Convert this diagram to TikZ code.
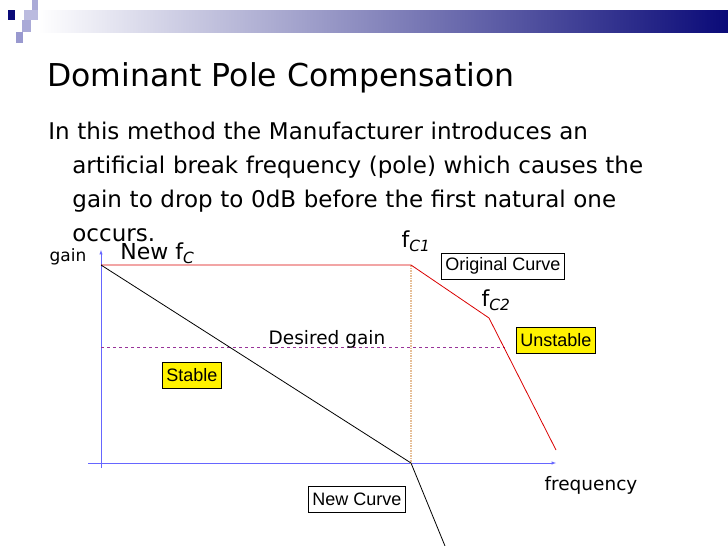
\documentclass[tikz,border=0pt]{standalone}
\usepackage{fontspec}
\setmainfont{DejaVu Sans}
\newfontfamily\arialf{Liberation Sans}
\begin{document}
\begin{tikzpicture}[x=1pt,y=-1pt,line width=0.8pt,
 lbl/.style={font=\fontsize{22}{26}\selectfont,inner sep=0pt},
 bx/.style={draw,line width=0.6pt,font=\arialf\fontsize{18}{20}\selectfont,minimum height=26pt,inner sep=4pt}]
\useasboundingbox (0,0) rectangle (728,546);
\definecolor{navy}{RGB}{10,10,120}
\definecolor{lav}{RGB}{170,170,215}
\definecolor{tan}{RGB}{230,190,150}
\shade[left color=white,right color=navy] (38,10) rectangle (728,32);
\fill[navy] (8,10) rectangle (15,20);
\fill[lav] (32,0) rectangle (38,10);
\fill[lav!80] (24,10) rectangle (38,20);
\fill[lav] (22,20) rectangle (31,32);
\fill[lav!120] (16,32) rectangle (23,43);
\node[anchor=west,font=\fontsize{31.5}{36}\selectfont,inner sep=0pt] (title) at (47,78) {Dominant Pole Compensation};
\node[anchor=north west,align=left,font=\fontsize{23}{34}\selectfont,text width=680pt,inner sep=0pt] (body) at (48,122)
 {In this method the Manufacturer introduces an\\\hspace*{24pt}artificial break frequency (pole) which causes the\\\hspace*{24pt}gain to drop to 0dB before the first natural one\\\hspace*{24pt}occurs.};
\coordinate (o) at (101,468);
\coordinate (yt) at (101,250);
\coordinate (x0) at (88,463);
\coordinate (xt) at (556,463);
\draw[blue!60,line width=0.5pt,-latex] (o) -- (yt);
\draw[blue!60,line width=0.5pt,-latex] (x0) -- (xt);
\coordinate (a) at (101,265);
\coordinate (b) at (411,265);
\coordinate (c) at (489,318);
\coordinate (d) at (556,450);
\coordinate (e) at (411,463);
\coordinate (f) at (445,546);
\draw[tan,densely dotted,line width=1.5pt] (b) -- (e);
\draw[violet!80,dashed] (101,347) coordinate (g1) -- (505,347) coordinate (g2);
\draw[red!85!black] (a) -- (b) -- (c) -- (d);
\draw (a) -- (e) -- (f);
\node[bx,fill=white,anchor=north west] (oc) at (441,253) {Original Curve};
\node[bx,fill=yellow,anchor=north west] (un) at (516,327) {Unstable};
\node[bx,fill=yellow,anchor=north west] (st) at (162,362) {Stable};
\node[bx,fill=white,anchor=north west] (nc) at (308,486) {New Curve};
\node[lbl,font=\fontsize{17}{20}\selectfont] (gain) at (68,257) {gain};
\node[lbl,anchor=west] (nf) at (120,253) {New f\textsubscript{\itshape C}};
\node[lbl] (f1) at (416,241) {f\textsubscript{\itshape C1}};
\node[lbl] (f2) at (496,300) {f\textsubscript{\itshape C2}};
\node[lbl,font=\fontsize{18.5}{22}\selectfont] (dg) at (327,339) {Desired gain};
\node[lbl,font=\fontsize{18.5}{22}\selectfont] (fr) at (591,485) {frequency};
\end{tikzpicture}
\end{document}
